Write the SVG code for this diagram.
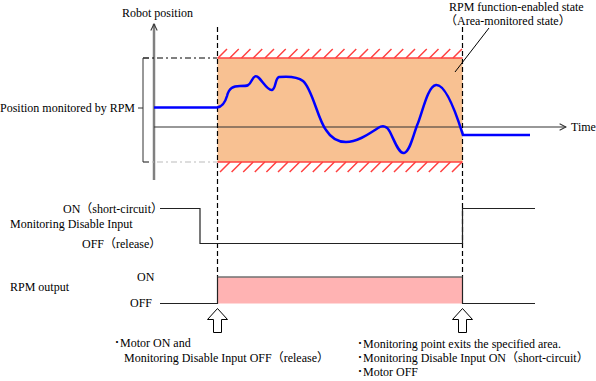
<svg xmlns="http://www.w3.org/2000/svg" width="596" height="381" viewBox="0 0 596 381">
<defs>
<style>
text{font-family:"Liberation Serif","Noto Sans CJK JP",serif;font-size:12px;fill:#000}
.dash{stroke:#000;stroke-width:1.2;stroke-dasharray:5 3;fill:none}
.red{stroke:#FF4040;stroke-width:1.5;fill:none}
.ln{stroke:#222;stroke-width:1.2;fill:none}
</style>
<marker id="open" viewBox="0 0 10 10" refX="9" refY="5" markerWidth="8" markerHeight="8" markerUnits="userSpaceOnUse" orient="auto">
<path d="M1,1 L9,5 L1,9" fill="none" stroke="#333" stroke-width="1.3"/>
</marker>
<marker id="openg" viewBox="0 0 10 10" refX="9" refY="5" markerWidth="8" markerHeight="8" markerUnits="userSpaceOnUse" orient="auto">
<path d="M1,1 L9,5 L1,9" fill="none" stroke="#333" stroke-width="1.3"/>
</marker>
<path id="hollow" d="M0,0 L10,11 L4,11 L4,24 L-4,24 L-4,11 L-10,11 Z" fill="#fff" stroke="#000" stroke-width="1"/>
</defs>
<rect width="596" height="381" fill="#fff"/>

<g id="monitored-area">
<rect x="217.5" y="58" width="245" height="104" fill="#F8C192"/>
<line class="red" x1="217.5" y1="58" x2="462.5" y2="58"/>
<line class="red" x1="217.5" y1="162" x2="462.5" y2="162"/>
<path class="red" stroke-width="1" d="M218,58l9,-9 M229.75,58l9,-9 M241.5,58l9,-9 M253.25,58l9,-9 M265,58l9,-9 M276.75,58l9,-9 M288.5,58l9,-9 M300.25,58l9,-9 M312,58l9,-9 M323.75,58l9,-9 M335.5,58l9,-9 M347.25,58l9,-9 M359,58l9,-9 M370.75,58l9,-9 M382.5,58l9,-9 M394.25,58l9,-9 M406,58l9,-9 M417.75,58l9,-9 M429.5,58l9,-9 M441.25,58l9,-9 M453,58l9,-9"/>
<path class="red" stroke-width="1" d="M220,172l10,-10 M231.6,172l10,-10 M243.2,172l10,-10 M254.8,172l10,-10 M266.4,172l10,-10 M278,172l10,-10 M289.6,172l10,-10 M301.2,172l10,-10 M312.8,172l10,-10 M324.4,172l10,-10 M336,172l10,-10 M347.6,172l10,-10 M359.2,172l10,-10 M370.8,172l10,-10 M382.4,172l10,-10 M394,172l10,-10 M405.6,172l10,-10 M417.2,172l10,-10 M428.8,172l10,-10 M440.4,172l10,-10 M452,172l10,-10"/>
</g>

<g id="axes">
<line x1="154" y1="180" x2="154" y2="24" stroke="#808080" stroke-width="2.5" marker-end="url(#open)"/>
<line x1="154" y1="127" x2="566" y2="127" stroke="#333" stroke-width="1.2" marker-end="url(#openg)"/>
<text x="122" y="17">Robot position</text>
<text x="571" y="131">Time</text>
</g>

<g id="limits">
<line x1="143" y1="58" x2="217" y2="58" stroke="#000" stroke-width="1" stroke-dasharray="6 3 2 3"/>
<line x1="143" y1="162" x2="217" y2="162" stroke="#bbb" stroke-width="1" stroke-dasharray="6 3 2 3"/>
<path d="M149,58 H143 V162 H149 M143,108 H138" fill="none" stroke="#333" stroke-width="1"/>
<text x="135" y="112" text-anchor="end">Position monitored by RPM</text>
</g>

<g id="connectors">
<line class="dash" x1="217.5" y1="27" x2="217.5" y2="277"/>
<line class="dash" x1="462.5" y1="27" x2="462.5" y2="277"/>
<line x1="489" y1="28" x2="455" y2="72" stroke="#000" stroke-width="1"/>
</g>

<g id="robot-path">
<path d="M154,107.5 H217 C222,107 225,103 227,96 C229,88 233,86 240,86 C248,86 249,86 252,80 C254,76 256,75 259,78 C263,82 268,91 272,90 C276,89 275,78 279,77 C290,76 298,77 303,81 C312,88 318,120 326,130 C331,138 337,142 346,142 C358,142 370,133 378,128 C383,125 387,126 390,132 C395,142 399,154 404,153 C410,152 413,135 418,123 C423,110 428,86 436,85 C445,84 455,110 462,132 L463,135 H530" fill="none" stroke="#0000FF" stroke-width="2.5"/>
</g>

<g id="state-label">
<text x="449" y="11">RPM function-enabled state</text>
<text x="445" y="25">（Area-monitored state）</text>
</g>

<g id="disable-input">
<path class="ln" d="M160,208.5 H200 V243.5 H462.5 V208.5 H535"/>
<text x="63" y="213">ON（short-circuit）</text>
<text x="10" y="228">Monitoring Disable Input</text>
<text x="82" y="248">OFF（release）</text>
</g>

<g id="rpm-output">
<rect x="217.5" y="277" width="245" height="26.5" fill="#FFB3B3"/>
<line x1="217.5" y1="277" x2="462.5" y2="277" stroke="#707070" stroke-width="1.5"/>
<path class="ln" d="M160,303.5 H217.5 V277 M462.5,277 V303.5 H535"/>
<text x="137" y="281">ON</text>
<text x="10" y="291">RPM output</text>
<text x="130" y="307">OFF</text>
</g>

<g id="event-start">
<use href="#hollow" x="217.5" y="308.5"/>
<text x="114" y="347">･Motor ON and</text>
<text x="124" y="362">Monitoring Disable Input OFF（release）</text>
</g>

<g id="event-end">
<use href="#hollow" x="462.5" y="308.5"/>
<text x="357" y="348">･Monitoring point exits the specified area.</text>
<text x="357" y="362">･Monitoring Disable Input ON（short-circuit）</text>
<text x="357" y="376">･Motor OFF</text>
</g>
</svg>
